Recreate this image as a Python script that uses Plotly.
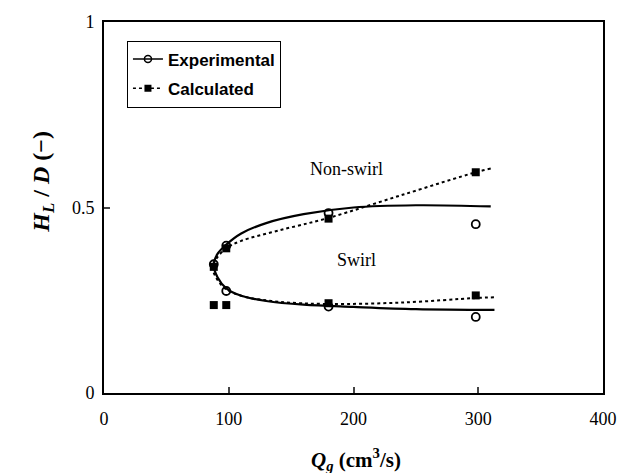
import plotly.graph_objects as go

# Data
exp_x = [88, 98, 98, 180, 180, 298, 298]
exp_y = [0.347, 0.397, 0.275, 0.485, 0.233, 0.455, 0.205]
calc_x = [88, 98, 88, 98, 180, 180, 298, 298]
calc_y = [0.340, 0.390, 0.237, 0.237, 0.470, 0.242, 0.595, 0.263]

# Fitted curves
exp_curve_x = [310, 250, 200, 160, 130, 110, 98, 91, 88, 91, 98, 110, 130, 160, 200, 250, 313]
exp_curve_y = [0.503, 0.506, 0.500, 0.482, 0.458, 0.430, 0.400, 0.375, 0.345, 0.312, 0.282, 0.262, 0.248, 0.238, 0.232, 0.226, 0.224]
calc_curve_x = [310, 298, 240, 180, 140, 110, 98, 90, 87, 90, 97, 110, 140, 180, 240, 298, 313]
calc_curve_y = [0.605, 0.595, 0.535, 0.472, 0.438, 0.410, 0.390, 0.362, 0.340, 0.310, 0.282, 0.262, 0.246, 0.240, 0.244, 0.256, 0.258]

x_ticks = [0, 100, 200, 300, 400]
y_ticks = [0, 0.5, 1]
y_labels = ["0", "0.5", "1"]

serif = "Liberation Serif"

fig = go.Figure()
fig.add_trace(go.Scatter(x=exp_curve_x, y=exp_curve_y, mode="lines", line=dict(color="black", width=2.2, shape="spline", smoothing=1.0), showlegend=False, hoverinfo="skip"))
fig.add_trace(go.Scatter(x=calc_curve_x, y=calc_curve_y, mode="lines", line=dict(color="black", width=2, dash="dot", shape="spline", smoothing=1.0), showlegend=False, hoverinfo="skip"))
fig.add_trace(go.Scatter(x=exp_x, y=exp_y, mode="markers", marker=dict(symbol="circle-open", size=8, color="black", line=dict(width=1.8)), showlegend=False))
fig.add_trace(go.Scatter(x=calc_x, y=calc_y, mode="markers", marker=dict(symbol="square", size=8, color="black"), showlegend=False))
# legend entries
fig.add_trace(go.Scatter(x=[None], y=[None], mode="lines+markers", name="<b>Experimental</b>", legendgroup="a",
                         line=dict(color="black", width=1.5), marker=dict(symbol="circle-open", size=7, color="black", line=dict(width=1.5))))
fig.add_trace(go.Scatter(x=[None], y=[None], mode="lines+markers", name="<b>Calculated</b>", legendgroup="b",
                         line=dict(color="black", width=1.5, dash="dot"), marker=dict(symbol="square", size=7, color="black")))

fig.add_annotation(x=194, y=0.605, xref="x", yref="y", text="Non-swirl", showarrow=False,
                   font=dict(family=serif, size=18, color="black"))
fig.add_annotation(x=202, y=0.358, xref="x", yref="y", text="Swirl", showarrow=False,
                   font=dict(family=serif, size=18, color="black"))

# axis titles as annotations for precise placement
fig.add_annotation(x=-0.158, y=0.57, xref="paper", yref="paper", textangle=-90, showarrow=False,
                   text="<b><i>H<sub>L</sub></i>&nbsp;/&nbsp;<i>D</i>&nbsp;(−)</b>", font=dict(family=serif, size=24, color="black"))
fig.add_annotation(x=0.506, y=-0.18, xref="paper", yref="paper", showarrow=False, yanchor="middle",
                   text="<b><i>Q<sub>g</sub></i> (cm<sup>3</sup>/s)</b>", font=dict(family=serif, size=21, color="black"))

fig.update_layout(
    width=629, height=473,
    margin=dict(l=104, r=25, t=13, b=80),
    paper_bgcolor="white", plot_bgcolor="white",
    legend=dict(x=0.046, y=0.95, xanchor="left", yanchor="top",
                bgcolor="white", bordercolor="black", borderwidth=1,
                font=dict(family="Liberation Sans", size=17, color="black"),
                tracegroupgap=4, itemwidth=30),
    xaxis=dict(range=[0, 400], tickvals=x_ticks, ticks="inside", ticklen=6, tickwidth=2,
               showline=True, linecolor="black", linewidth=2, mirror=True, showgrid=False, zeroline=False,
               ticklabelstandoff=8,
               tickfont=dict(family=serif, size=18, color="black")),
    yaxis=dict(range=[0, 1], tickvals=y_ticks, ticktext=y_labels, ticks="inside", ticklen=6, tickwidth=2,
               showline=True, linecolor="black", linewidth=2, mirror=True, showgrid=False, zeroline=False,
               ticklabelstandoff=4,
               tickfont=dict(family=serif, size=18, color="black")),
)

fig.write_html("out.html")
